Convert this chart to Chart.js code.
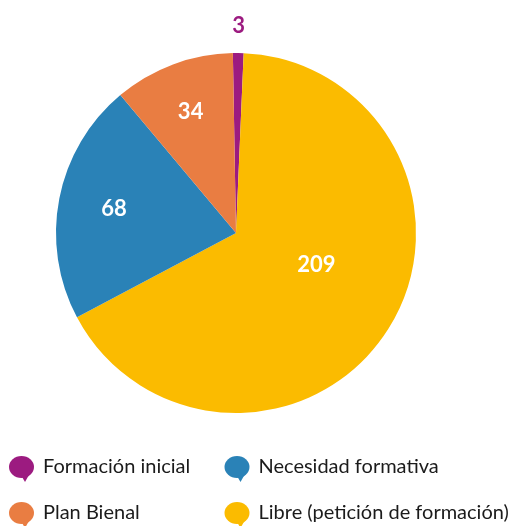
<!DOCTYPE html>
<html>
<head>
<meta charset="utf-8">
<script src="https://cdn.jsdelivr.net/npm/chart.js@4.4.1/dist/chart.umd.min.js"></script>
<style>
  html, body { margin: 0; padding: 0; background: #fff; }
  #wrap { width: 513px; height: 526px; }
</style>
</head>
<body>
<div id="wrap"><canvas id="pie"></canvas></div>
<script>
// slice data, clockwise from the top
const categories = ['Formación inicial', 'Libre (petición de formación)', 'Necesidad formativa', 'Plan Bienal'];
const counts = [3, 209, 68, 34];
const colors = ['#9c1b80', '#fbbb00', '#2a82b7', '#e97d42'];
// legend reading order (left-to-right, top-to-bottom)
const legendOrder = [0, 2, 3, 1];

const FONT = 'Lato, "Open Sans", sans-serif';

// value labels: placed at each slice's mid angle, tweakable per slice
const labelPlacement = [
    { r: 1.15, shift: 0, color: '#9c1b80' },
    { r: 0.48, shift: -0.19, color: '#fff' },
    { r: 0.69, shift: 0, color: '#fff' },
    { r: 0.72, shift: 0, color: '#fff' }
];

const valueLabels = {
    id: 'valueLabels',
    afterDatasetsDraw(chart) {
        const ctx = chart.ctx;
        const arcs = chart.getDatasetMeta(0).data;
        ctx.save();
        ctx.font = 'bold 22px ' + FONT;
        ctx.textAlign = 'center';
        ctx.textBaseline = 'middle';
        arcs.forEach((arc, i) => {
            const p = arc.getProps(['x', 'y', 'startAngle', 'endAngle', 'outerRadius'], true);
            const lp = labelPlacement[i];
            const a = (p.startAngle + p.endAngle) / 2 + lp.shift;
            const r = p.outerRadius * lp.r;
            ctx.fillStyle = lp.color;
            ctx.fillText(String(counts[i]), p.x + Math.cos(a) * r, p.y + Math.sin(a) * r);
        });
        ctx.restore();
    }
};

// speech-bubble marker for the legend
function bubble(ctx, x, y, color) {
    ctx.save();
    ctx.fillStyle = color;
    ctx.beginPath();
    ctx.ellipse(x, y, 12.5, 11, 0, 0, Math.PI * 2);
    ctx.fill();
    ctx.beginPath();
    ctx.moveTo(x, y + 9);
    ctx.lineTo(x + 3.5, y + 15);
    ctx.lineTo(x + 8, y + 7);
    ctx.closePath();
    ctx.fill();
    ctx.restore();
}

const gridLegend = {
    id: 'gridLegend',
    afterDraw(chart) {
        const ctx = chart.ctx;
        const colX = [21.5, 237];
        const rowY = [467, 513];
        ctx.save();
        ctx.font = '20px ' + FONT;
        ctx.textBaseline = 'middle';
        ctx.textAlign = 'left';
        legendOrder.forEach((idx, n) => {
            const x = colX[n % 2];
            const y = rowY[Math.floor(n / 2)];
            bubble(ctx, x, y, colors[idx]);
            ctx.fillStyle = '#1b1b1b';
            ctx.fillText(categories[idx], x + 21.5, y);
        });
        ctx.restore();
    }
};

new Chart(document.getElementById('pie'), {
    type: 'pie',
    data: {
        labels: categories,
        datasets: [{
            data: counts,
            backgroundColor: colors,
            borderWidth: 0
        }]
    },
    options: {
        responsive: true,
        maintainAspectRatio: false,
        animation: false,
        rotation: -1,
        layout: { padding: { top: 53, bottom: 113, left: 56, right: 97 } },
        plugins: {
            legend: { display: false },
            tooltip: { enabled: false }
        }
    },
    plugins: [valueLabels, gridLegend]
});
</script>
</body>
</html>
